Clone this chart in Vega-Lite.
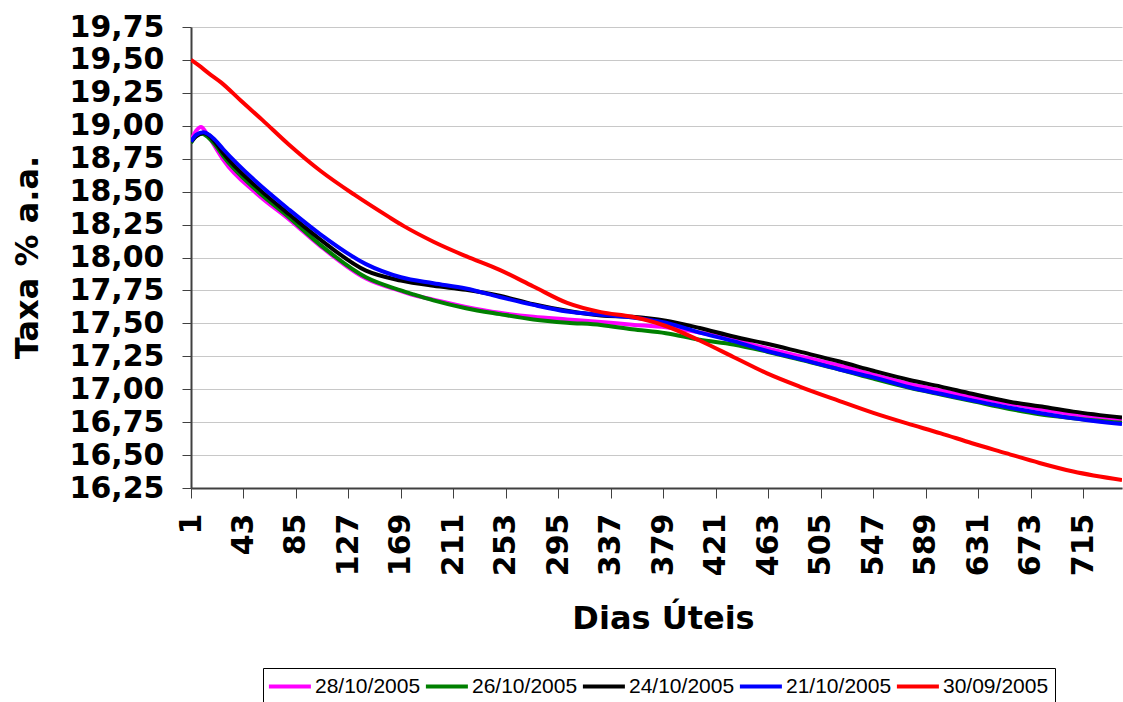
{
  "$schema": "https://vega.github.io/schema/vega-lite/v6.json",
  "width": 931,
  "height": 461,
  "autosize": {"type": "none"},
  "padding": {"left": 191, "top": 27, "right": 1, "bottom": 214},
  "background": "white",
  "config": {
    "view": {"stroke": null},
    "axis": {"labelFont": "DejaVu Sans", "titleFont": "DejaVu Sans", "labelColor": "black", "titleColor": "black"}
  },
  "data": {
    "values": [
      {"series": "28/10/2005", "day": 1, "rate": 18.89},
      {"series": "28/10/2005", "day": 5, "rate": 18.96},
      {"series": "28/10/2005", "day": 9, "rate": 18.99},
      {"series": "28/10/2005", "day": 13, "rate": 18.95},
      {"series": "28/10/2005", "day": 19, "rate": 18.86},
      {"series": "28/10/2005", "day": 27, "rate": 18.74},
      {"series": "28/10/2005", "day": 53, "rate": 18.49},
      {"series": "28/10/2005", "day": 80, "rate": 18.285},
      {"series": "28/10/2005", "day": 104, "rate": 18.09},
      {"series": "28/10/2005", "day": 141, "rate": 17.84},
      {"series": "28/10/2005", "day": 169, "rate": 17.745},
      {"series": "28/10/2005", "day": 179, "rate": 17.715},
      {"series": "28/10/2005", "day": 195, "rate": 17.68},
      {"series": "28/10/2005", "day": 221, "rate": 17.625},
      {"series": "28/10/2005", "day": 248, "rate": 17.58},
      {"series": "28/10/2005", "day": 275, "rate": 17.55},
      {"series": "28/10/2005", "day": 302, "rate": 17.53},
      {"series": "28/10/2005", "day": 329, "rate": 17.51},
      {"series": "28/10/2005", "day": 354, "rate": 17.49},
      {"series": "28/10/2005", "day": 381, "rate": 17.47},
      {"series": "28/10/2005", "day": 408, "rate": 17.43},
      {"series": "28/10/2005", "day": 435, "rate": 17.375},
      {"series": "28/10/2005", "day": 462, "rate": 17.31},
      {"series": "28/10/2005", "day": 488, "rate": 17.25},
      {"series": "28/10/2005", "day": 520, "rate": 17.18},
      {"series": "28/10/2005", "day": 547, "rate": 17.11},
      {"series": "28/10/2005", "day": 576, "rate": 17.04},
      {"series": "28/10/2005", "day": 601, "rate": 16.99},
      {"series": "28/10/2005", "day": 626, "rate": 16.94},
      {"series": "28/10/2005", "day": 656, "rate": 16.89},
      {"series": "28/10/2005", "day": 680, "rate": 16.85},
      {"series": "28/10/2005", "day": 707, "rate": 16.81},
      {"series": "28/10/2005", "day": 746, "rate": 16.77},

      {"series": "26/10/2005", "day": 1, "rate": 18.87},
      {"series": "26/10/2005", "day": 5, "rate": 18.92},
      {"series": "26/10/2005", "day": 10, "rate": 18.94},
      {"series": "26/10/2005", "day": 15, "rate": 18.91},
      {"series": "26/10/2005", "day": 20, "rate": 18.86},
      {"series": "26/10/2005", "day": 27, "rate": 18.767},
      {"series": "26/10/2005", "day": 53, "rate": 18.514},
      {"series": "26/10/2005", "day": 80, "rate": 18.30},
      {"series": "26/10/2005", "day": 104, "rate": 18.10},
      {"series": "26/10/2005", "day": 141, "rate": 17.85},
      {"series": "26/10/2005", "day": 169, "rate": 17.75},
      {"series": "26/10/2005", "day": 179, "rate": 17.72},
      {"series": "26/10/2005", "day": 195, "rate": 17.675},
      {"series": "26/10/2005", "day": 221, "rate": 17.615},
      {"series": "26/10/2005", "day": 248, "rate": 17.57},
      {"series": "26/10/2005", "day": 275, "rate": 17.53},
      {"series": "26/10/2005", "day": 302, "rate": 17.505},
      {"series": "26/10/2005", "day": 329, "rate": 17.488},
      {"series": "26/10/2005", "day": 354, "rate": 17.455},
      {"series": "26/10/2005", "day": 381, "rate": 17.425},
      {"series": "26/10/2005", "day": 408, "rate": 17.375},
      {"series": "26/10/2005", "day": 435, "rate": 17.34},
      {"series": "26/10/2005", "day": 462, "rate": 17.285},
      {"series": "26/10/2005", "day": 488, "rate": 17.225},
      {"series": "26/10/2005", "day": 520, "rate": 17.15},
      {"series": "26/10/2005", "day": 547, "rate": 17.08},
      {"series": "26/10/2005", "day": 576, "rate": 17.01},
      {"series": "26/10/2005", "day": 601, "rate": 16.96},
      {"series": "26/10/2005", "day": 626, "rate": 16.91},
      {"series": "26/10/2005", "day": 656, "rate": 16.85},
      {"series": "26/10/2005", "day": 680, "rate": 16.81},
      {"series": "26/10/2005", "day": 707, "rate": 16.78},
      {"series": "26/10/2005", "day": 746, "rate": 16.745},

      {"series": "24/10/2005", "day": 1, "rate": 18.88},
      {"series": "24/10/2005", "day": 5, "rate": 18.92},
      {"series": "24/10/2005", "day": 11, "rate": 18.945},
      {"series": "24/10/2005", "day": 15, "rate": 18.93},
      {"series": "24/10/2005", "day": 20, "rate": 18.88},
      {"series": "24/10/2005", "day": 27, "rate": 18.79},
      {"series": "24/10/2005", "day": 53, "rate": 18.54},
      {"series": "24/10/2005", "day": 80, "rate": 18.324},
      {"series": "24/10/2005", "day": 104, "rate": 18.14},
      {"series": "24/10/2005", "day": 141, "rate": 17.90},
      {"series": "24/10/2005", "day": 169, "rate": 17.825},
      {"series": "24/10/2005", "day": 195, "rate": 17.785},
      {"series": "24/10/2005", "day": 221, "rate": 17.755},
      {"series": "24/10/2005", "day": 248, "rate": 17.71},
      {"series": "24/10/2005", "day": 275, "rate": 17.645},
      {"series": "24/10/2005", "day": 302, "rate": 17.595},
      {"series": "24/10/2005", "day": 329, "rate": 17.56},
      {"series": "24/10/2005", "day": 354, "rate": 17.55},
      {"series": "24/10/2005", "day": 381, "rate": 17.52},
      {"series": "24/10/2005", "day": 408, "rate": 17.465},
      {"series": "24/10/2005", "day": 435, "rate": 17.40},
      {"series": "24/10/2005", "day": 462, "rate": 17.345},
      {"series": "24/10/2005", "day": 488, "rate": 17.285},
      {"series": "24/10/2005", "day": 520, "rate": 17.21},
      {"series": "24/10/2005", "day": 547, "rate": 17.14},
      {"series": "24/10/2005", "day": 576, "rate": 17.07},
      {"series": "24/10/2005", "day": 601, "rate": 17.02},
      {"series": "24/10/2005", "day": 626, "rate": 16.965},
      {"series": "24/10/2005", "day": 656, "rate": 16.905},
      {"series": "24/10/2005", "day": 680, "rate": 16.87},
      {"series": "24/10/2005", "day": 707, "rate": 16.83},
      {"series": "24/10/2005", "day": 746, "rate": 16.785},

      {"series": "21/10/2005", "day": 1, "rate": 18.88},
      {"series": "21/10/2005", "day": 5, "rate": 18.93},
      {"series": "21/10/2005", "day": 11, "rate": 18.95},
      {"series": "21/10/2005", "day": 15, "rate": 18.935},
      {"series": "21/10/2005", "day": 20, "rate": 18.895},
      {"series": "21/10/2005", "day": 27, "rate": 18.82},
      {"series": "21/10/2005", "day": 53, "rate": 18.577},
      {"series": "21/10/2005", "day": 80, "rate": 18.36},
      {"series": "21/10/2005", "day": 104, "rate": 18.18},
      {"series": "21/10/2005", "day": 141, "rate": 17.95},
      {"series": "21/10/2005", "day": 169, "rate": 17.85},
      {"series": "21/10/2005", "day": 195, "rate": 17.805},
      {"series": "21/10/2005", "day": 221, "rate": 17.765},
      {"series": "21/10/2005", "day": 248, "rate": 17.70},
      {"series": "21/10/2005", "day": 275, "rate": 17.64},
      {"series": "21/10/2005", "day": 302, "rate": 17.59},
      {"series": "21/10/2005", "day": 329, "rate": 17.565},
      {"series": "21/10/2005", "day": 354, "rate": 17.545},
      {"series": "21/10/2005", "day": 381, "rate": 17.505},
      {"series": "21/10/2005", "day": 408, "rate": 17.43},
      {"series": "21/10/2005", "day": 435, "rate": 17.365},
      {"series": "21/10/2005", "day": 462, "rate": 17.29},
      {"series": "21/10/2005", "day": 488, "rate": 17.23},
      {"series": "21/10/2005", "day": 520, "rate": 17.15},
      {"series": "21/10/2005", "day": 547, "rate": 17.09},
      {"series": "21/10/2005", "day": 576, "rate": 17.015},
      {"series": "21/10/2005", "day": 601, "rate": 16.965},
      {"series": "21/10/2005", "day": 626, "rate": 16.915},
      {"series": "21/10/2005", "day": 656, "rate": 16.86},
      {"series": "21/10/2005", "day": 680, "rate": 16.82},
      {"series": "21/10/2005", "day": 707, "rate": 16.78},
      {"series": "21/10/2005", "day": 746, "rate": 16.735},

      {"series": "30/09/2005", "day": 1, "rate": 19.50},
      {"series": "30/09/2005", "day": 7, "rate": 19.46},
      {"series": "30/09/2005", "day": 15, "rate": 19.40},
      {"series": "30/09/2005", "day": 25, "rate": 19.33},
      {"series": "30/09/2005", "day": 41, "rate": 19.19},
      {"series": "30/09/2005", "day": 58, "rate": 19.045},
      {"series": "30/09/2005", "day": 79, "rate": 18.86},
      {"series": "30/09/2005", "day": 105, "rate": 18.655},
      {"series": "30/09/2005", "day": 132, "rate": 18.475},
      {"series": "30/09/2005", "day": 159, "rate": 18.31},
      {"series": "30/09/2005", "day": 171, "rate": 18.24},
      {"series": "30/09/2005", "day": 195, "rate": 18.12},
      {"series": "30/09/2005", "day": 221, "rate": 18.01},
      {"series": "30/09/2005", "day": 248, "rate": 17.906},
      {"series": "30/09/2005", "day": 275, "rate": 17.78},
      {"series": "30/09/2005", "day": 302, "rate": 17.655},
      {"series": "30/09/2005", "day": 329, "rate": 17.585},
      {"series": "30/09/2005", "day": 354, "rate": 17.55},
      {"series": "30/09/2005", "day": 381, "rate": 17.48},
      {"series": "30/09/2005", "day": 408, "rate": 17.37},
      {"series": "30/09/2005", "day": 435, "rate": 17.245},
      {"series": "30/09/2005", "day": 462, "rate": 17.12},
      {"series": "30/09/2005", "day": 488, "rate": 17.02},
      {"series": "30/09/2005", "day": 520, "rate": 16.91},
      {"series": "30/09/2005", "day": 547, "rate": 16.82},
      {"series": "30/09/2005", "day": 574, "rate": 16.74},
      {"series": "30/09/2005", "day": 601, "rate": 16.665},
      {"series": "30/09/2005", "day": 626, "rate": 16.59},
      {"series": "30/09/2005", "day": 653, "rate": 16.515},
      {"series": "30/09/2005", "day": 680, "rate": 16.44},
      {"series": "30/09/2005", "day": 707, "rate": 16.375},
      {"series": "30/09/2005", "day": 746, "rate": 16.31}
    ]
  },
  "mark": {"type": "line", "strokeWidth": 4, "interpolate": "monotone", "clip": true},
  "encoding": {
    "x": {
      "field": "day",
      "type": "quantitative",
      "scale": {"domain": [1, 746], "nice": false, "zero": false},
      "axis": {
        "values": [1, 43, 85, 127, 169, 211, 253, 295, 337, 379, 421, 463, 505, 547, 589, 631, 673, 715],
        "format": "d",
        "labelAngle": -90,
        "labelFlush": false,
        "labelOverlap": false,
        "labelFontSize": 30,
        "labelFontWeight": "bold",
        "labelPadding": 15,
        "tickSize": 10,
        "tickColor": "#404040",
        "domainColor": "#404040",
        "domainWidth": 2,
        "grid": false,
        "title": "Dias Úteis",
        "titleFontSize": 32,
        "titleFontWeight": "bold",
        "titleX": 472,
        "titleY": 130,
        "titleBaseline": "middle",
        "titleAlign": "center"
      }
    },
    "y": {
      "field": "rate",
      "type": "quantitative",
      "scale": {"domain": [16.25, 19.75], "nice": false, "zero": false},
      "axis": {
        "values": [16.25, 16.5, 16.75, 17, 17.25, 17.5, 17.75, 18, 18.25, 18.5, 18.75, 19, 19.25, 19.5, 19.75],
        "labelExpr": "replace(format(datum.value, '.2f'), '.', ',')",
        "labelOverlap": false,
        "labelFlush": false,
        "labelFontSize": 30,
        "labelFontWeight": "bold",
        "labelPadding": 18,
        "tickSize": 9,
        "tickColor": "#404040",
        "domainColor": "#404040",
        "domainWidth": 2,
        "grid": true,
        "gridColor": "#c8c8c8",
        "gridWidth": 1,
        "title": "Taxa % a.a.",
        "titleFontSize": 32,
        "titleFontWeight": "bold",
        "titleX": -164,
        "titleY": 230,
        "titleAngle": -90,
        "titleBaseline": "middle",
        "titleAlign": "center"
      }
    },
    "color": {
      "field": "series",
      "type": "nominal",
      "scale": {
        "domain": ["28/10/2005", "26/10/2005", "24/10/2005", "21/10/2005", "30/09/2005"],
        "range": ["#FF00FF", "#008000", "#000000", "#0000FF", "#FF0000"]
      },
      "legend": {
        "title": null,
        "orient": "none",
        "legendX": 72,
        "legendY": 641,
        "direction": "horizontal",
        "gridAlign": "none",
        "symbolType": "M-1.2,0H2.8",
        "symbolSize": 441,
        "symbolStrokeWidth": 4,
        "labelFont": "Liberation Sans",
        "labelFontSize": 21,
        "labelColor": "black",
        "labelOffset": 21,
        "columnPadding": -4,
        "padding": 6,
        "strokeColor": "#000000",
        "fillColor": "white",
        "labelLimit": 0
      }
    }
  }
}
